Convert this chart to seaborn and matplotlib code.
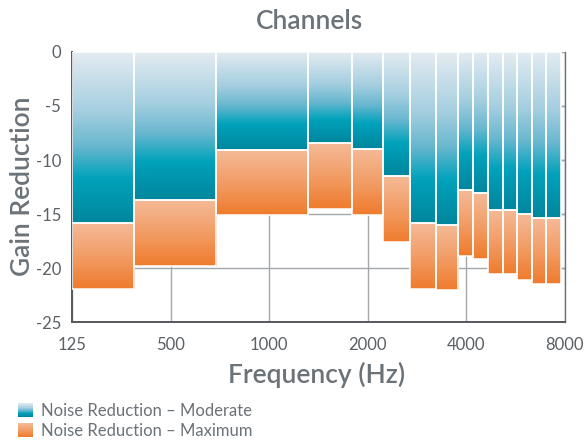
import numpy as np
import matplotlib
matplotlib.use("Agg")
import matplotlib.pyplot as plt
import seaborn as sns
from matplotlib.colors import LinearSegmentedColormap
from matplotlib.legend_handler import HandlerBase
from matplotlib.patches import Rectangle

# Channel layout and gain reduction per channel (dB)
freq_ticks = [125, 500, 1000, 2000, 4000, 8000]
tick_labels = ["125", "500", "1000", "2000", "4000", "8000"]
band_edges_hz = [125, 300, 690, 1310, 1790, 2225, 2700, 3225, 3780,
                 4200, 4670, 5160, 5710, 6330, 7000, 7760]
moderate = [-15.8, -13.7, -9.1, -8.4, -9.0, -11.5, -15.8, -16.0,
            -12.8, -13.1, -14.6, -14.6, -15.0, -15.4, -15.4]
maximum = [-21.9, -19.8, -15.1, -14.5, -15.1, -17.6, -21.9, -22.0,
           -18.9, -19.2, -20.6, -20.6, -21.1, -21.45, -21.45]
series_names = ["Noise Reduction \u2013 Moderate", "Noise Reduction \u2013 Maximum"]

sns.set_theme(style="white")
plt.rcParams["font.family"] = ["Lato", "DejaVu Sans"]

TEXT = "#6b7278"
TICK = "#5a6065"
AXIS = "#55595d"

blue_cmap = LinearSegmentedColormap.from_list(
    "teal", [(0.0, "#e4ecf1"), (0.35, "#a4cee0"), (0.55, "#68b7cf"),
             (0.74, "#00a2bb"), (1.0, "#00869d")])
orange_cmap = LinearSegmentedColormap.from_list(
    "peach", [(0.0, "#f5ba97"), (0.5, "#f29d66"), (1.0, "#ef7b2c")])


def to_axis(freqs):
    """Place frequencies on the octave-indexed tick scale."""
    return np.interp(np.log2(freqs), np.log2(freq_ticks), np.arange(len(freq_ticks)))


edges = to_axis(np.array(band_edges_hz, dtype=float))
lefts = edges[:-1]
widths = np.diff(edges)
mod = np.array(moderate)
mx = np.array(maximum)

fig = plt.figure(figsize=(5.86, 4.40), dpi=100)
ax = fig.add_axes([72 / 586, 1 - 322 / 440, 493 / 586, 270 / 440])

grad = np.linspace(0, 1, 256).reshape(-1, 1)


def gradient_bars(bottom, top, cmap):
    bars = ax.bar(lefts, top - bottom, width=widths, bottom=bottom, align="edge",
                  color="none", edgecolor="#ffffff", linewidth=1.1, zorder=3)
    for patch, x0, w, b, t in zip(bars.patches, lefts, widths, bottom, top):
        img = ax.imshow(grad, cmap=cmap, aspect="auto", origin="upper",
                        extent=(x0, x0 + w, b, t), zorder=2, interpolation="bilinear")
        img.set_clip_path(patch)
    return bars


gradient_bars(mod, np.zeros_like(mod), blue_cmap)
gradient_bars(mx, mod, orange_cmap)

ax.set_xlim(0, len(freq_ticks) - 1)
ax.set_ylim(-25, 0)
ax.set_xticks(np.arange(len(freq_ticks)))
ax.set_xticklabels(tick_labels)
ax.set_yticks([0, -5, -10, -15, -20, -25])
ax.set_yticklabels(["0", "-5", "-10", "-15", "-20", "-25"])

ax.grid(True, color="#a3a7ab", linewidth=1.0, zorder=0.5)
ax.set_axisbelow(True)

for side in ["left", "bottom"]:
    ax.spines[side].set_color(AXIS)
    ax.spines[side].set_linewidth(1.4)
ax.spines["right"].set_color("#6d7175")
ax.spines["right"].set_linewidth(1.0)
ax.spines["top"].set_visible(False)

ax.tick_params(axis="both", direction="out", length=5, width=1.2, color=AXIS,
               labelsize=12, labelcolor=TICK, pad=3)
ax.tick_params(axis="x", pad=6)

sec = ax.secondary_yaxis("right")
sec.set_yticks([-5, -10, -15, -20])
sec.tick_params(direction="in", length=5, width=1.0, color="#6d7175", labelright=False)
sec.spines["right"].set_visible(False)

label_kw = dict(fontsize=19, fontweight="semibold", color=TEXT)
fig.text(309 / 586, 1 - 29 / 440, "Channels", ha="center", va="baseline", **label_kw)
fig.text(22 / 586, 1 - 186.5 / 440, "Gain Reduction", ha="center", va="center",
         rotation=90, **label_kw)
fig.text(316.5 / 586, 1 - 383 / 440, "Frequency (Hz)", ha="center", va="baseline",
         **label_kw)


class GradientHandler(HandlerBase):
    def __init__(self, cmap, **kw):
        super().__init__(**kw)
        self.cmap = cmap

    def create_artists(self, legend, orig_handle, xdescent, ydescent, width,
                       height, fontsize, trans):
        n = 24
        artists = []
        for i in range(n):
            y = -ydescent + height * (1 - (i + 1) / n)
            r = Rectangle((-xdescent, y), width, height / n + 0.05,
                          facecolor=self.cmap(i / (n - 1)), edgecolor="none",
                          transform=trans)
            artists.append(r)
        return artists


h1 = Rectangle((0, 0), 1, 1)
h2 = Rectangle((0, 0), 1, 1)
fig.legend([h1, h2], series_names,
           handler_map={h1: GradientHandler(blue_cmap), h2: GradientHandler(orange_cmap)},
           loc="upper left", bbox_to_anchor=(11 / 586, 1 - 396 / 440),
           frameon=False, fontsize=12, labelcolor=TEXT,
           handlelength=0.92, handleheight=0.92, handletextpad=0.45,
           labelspacing=0.25, borderaxespad=0)

fig.savefig("out.png", dpi=100)
